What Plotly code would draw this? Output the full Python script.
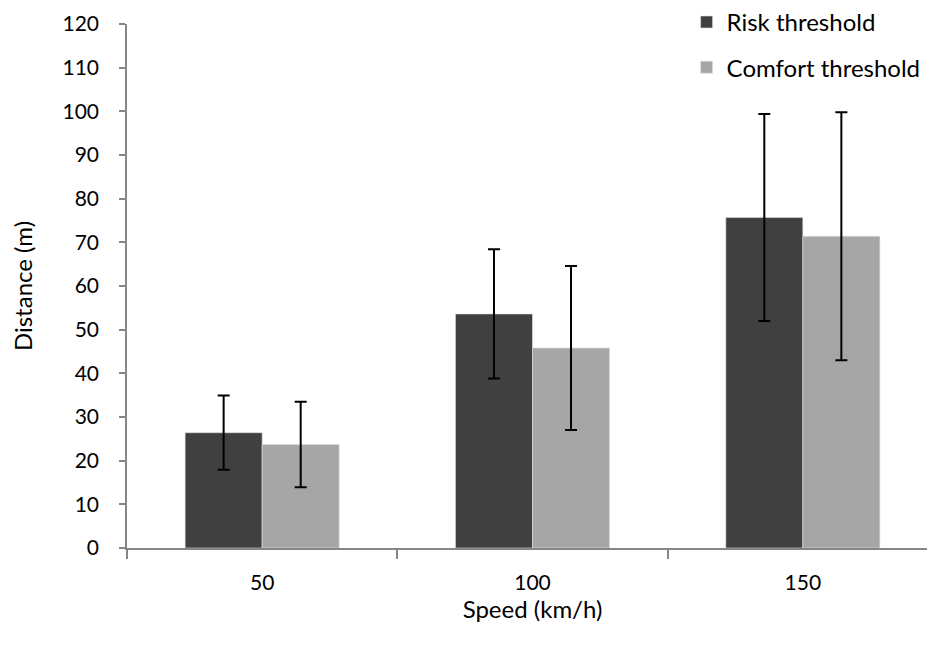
import plotly.graph_objects as go

categories = ["50", "100", "150"]
risk = [26.4, 53.6, 75.7]
risk_err = [8.5, 14.8, 23.7]
comfort = [23.7, 45.8, 71.4]
comfort_err = [9.8, 18.8, 28.4]
yticks = list(range(0, 121, 10))

fig = go.Figure()
fig.add_trace(go.Bar(
    x=categories, y=risk, name="Risk threshold", legendgroup="a",
    marker=dict(color="#404040", line=dict(color="#e0e0e0", width=0.6)),
    error_y=dict(type="data", array=risk_err, color="black", thickness=2, width=6),
))
fig.add_trace(go.Bar(
    x=categories, y=comfort, name="Comfort threshold", legendgroup="b",
    marker=dict(color="#a6a6a6", line=dict(color="#e0e0e0", width=0.6)),
    error_y=dict(type="data", array=comfort_err, color="black", thickness=2, width=6),
))

font = "Lato, 'Open Sans', sans-serif"
fig.update_layout(
    width=935, height=650,
    margin=dict(l=119, r=5, t=16, b=110, autoexpand=False),
    paper_bgcolor="white", plot_bgcolor="white",
    barmode="group", bargap=0.43, bargroupgap=0,
    font=dict(family=font, size=21, color="black"),
    legend=dict(x=0.690, y=1.046, xanchor="left", yanchor="top",
                font=dict(size=24), tracegroupgap=11,
                bgcolor="rgba(0,0,0,0)"),
    xaxis=dict(
        type="category", range=[-0.5, 2.5],
        showline=True, linecolor="#868686", linewidth=1.5,
        ticks="outside", tickson="boundaries", ticklen=9, tickcolor="#868686", tickwidth=1.5,
        showgrid=False, tickfont=dict(size=21), ticklabelstandoff=15,
        title=dict(text="Speed (km/h)", font=dict(size=24), standoff=4),
    ),
    yaxis=dict(
        range=[0, 120], tickvals=yticks,
        showline=True, linecolor="#868686", linewidth=1.5,
        ticks="outside", ticklen=6, tickcolor="#868686", tickwidth=1.5,
        showgrid=False, zeroline=False, tickfont=dict(size=21), ticklabelstandoff=16,
        title=dict(text="Distance (m)", font=dict(size=24), standoff=27),
    ),
)

fig.write_html("out.html")
